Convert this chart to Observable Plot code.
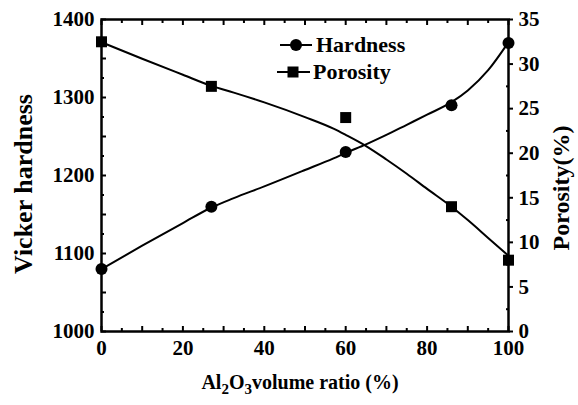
<!DOCTYPE html>
<html><head><meta charset="utf-8">
<script src="https://cdn.jsdelivr.net/npm/d3@7"></script>
<script src="https://cdn.jsdelivr.net/npm/@observablehq/plot@0.6"></script>
<style>body{margin:0;background:#fff} svg text{font-family:"Liberation Serif","Times New Roman",serif !important;}</style>
</head><body><div id="chart"></div>
<script>
// measured points
const ratio = [0, 27, 60, 86, 100];
const hardness = [1080, 1160, 1230, 1290, 1370];
const porosity = [32.5, 27.5, 24, 14, 8];
// fitted curves
const fitRatio = [0, 10, 20, 27, 32.5, 40, 50, 57, 60, 65, 70, 75, 80, 86, 90, 95, 100];
const hardFit = [1080, 1110, 1139, 1159, 1171, 1186, 1207, 1222, 1229, 1240, 1252, 1265, 1278, 1294, 1309, 1335, 1371];
const porFit = [32.45, 30.6, 28.8, 27.55, 26.8, 25.7, 24.05, 22.75, 22.05, 20.8, 19.3, 17.7, 16.0, 14.0, 12.5, 10.5, 8.5];
// axis ticks
const xLabels = [0, 20, 40, 60, 80, 100];
const xMajor = [0, 10, 20, 30, 40, 50, 60, 70, 80, 90, 100];
const xMinor = [5, 15, 25, 35, 45, 55, 65, 75, 85, 95];
const hLabels = [1000, 1100, 1200, 1300, 1400];
const hMajor = [1000, 1050, 1100, 1150, 1200, 1250, 1300, 1350, 1400];
const hMinor = [1025, 1075, 1125, 1175, 1225, 1275, 1325, 1375];
const pLabels = [0, 5, 10, 15, 20, 25, 30, 35];
const pMinor = [2.5, 7.5, 12.5, 17.5, 22.5, 27.5, 32.5];

const H0 = 1000, H1 = 1400, P1 = 35;
const toH = p => H0 + p * (H1 - H0) / P1;
const toP = h => (h - H0) * P1 / (H1 - H0);

const pts = ratio.map((r, i) => ({r, h: hardness[i], p: toH(porosity[i])}));
const fit = fitRatio.map((r, i) => ({r, h: hardFit[i], p: toH(porFit[i])}));
const none = () => "";
const fs = 21;
const serif = "'Liberation Serif', 'Times New Roman', serif";

const chart = Plot.plot({
  width: 578, height: 405,
  marginLeft: 101, marginRight: 70, marginTop: 19, marginBottom: 74,
  style: {fontFamily: serif, fontWeight: "bold", background: "#fff", color: "#000"},
  x: {domain: [0, 100], label: null},
  y: {domain: [H0, H1], label: null},
  marks: [
    Plot.axisX(xMajor, {anchor: "bottom", tickSize: -5, tickFormat: none, strokeWidth: 2}),
    Plot.axisX(xMinor, {anchor: "bottom", tickSize: -3, tickFormat: none, strokeWidth: 2}),
    Plot.axisX(xMajor, {anchor: "top", tickSize: -5, tickFormat: none, strokeWidth: 2}),
    Plot.axisX(xMinor, {anchor: "top", tickSize: -3, tickFormat: none, strokeWidth: 2}),
    Plot.axisX(xLabels, {anchor: "bottom", tickSize: 0, tickPadding: 9, fontSize: fs, label: null, tickFormat: d3.format("d")}),
    Plot.axisY(hMajor, {anchor: "left", tickSize: -5, tickFormat: none, strokeWidth: 2}),
    Plot.axisY(hMinor, {anchor: "left", tickSize: -3, tickFormat: none, strokeWidth: 2}),
    Plot.axisY(hLabels, {anchor: "left", tickSize: 0, tickPadding: 7, fontSize: fs, label: null, tickFormat: d3.format("d")}),
    Plot.axisY(pLabels.map(toH), {anchor: "right", tickSize: 4, tickFormat: none, strokeWidth: 2}),
    Plot.axisY(pMinor.map(toH), {anchor: "right", tickSize: -3, tickFormat: none, strokeWidth: 2}),
    Plot.axisY(pLabels.map(toH), {anchor: "right", tickSize: 0, tickPadding: 10, fontSize: fs, label: null,
      tickFormat: h => String(Math.round(toP(h)))}),
    Plot.line(fit, {x: "r", y: "h", curve: "monotone-x", stroke: "#000", strokeWidth: 2}),
    Plot.line(fit, {x: "r", y: "p", curve: "monotone-x", stroke: "#000", strokeWidth: 2}),
    Plot.dot(pts, {x: "r", y: "h", r: 6, fill: "#000", stroke: "none"}),
    Plot.dot(pts, {x: "r", y: "p", r: 6.2, symbol: "square", fill: "#000", stroke: "none"}),
    Plot.frame({stroke: "#000", strokeWidth: 2.5})
  ]
});
document.getElementById("chart").appendChild(chart);

const svg = d3.select(chart);
// axis titles
svg.append("text").attr("transform", "translate(32,184) rotate(-90)")
  .attr("text-anchor", "middle").attr("font-family", serif).attr("font-weight", "bold")
  .attr("font-size", 26).attr("fill", "#000").text("Vicker hardness");
svg.append("text").attr("transform", "translate(569,188) rotate(-90)")
  .attr("text-anchor", "middle").attr("font-family", serif).attr("font-weight", "bold")
  .attr("font-size", 24).attr("fill", "#000").text("Porosity(%)");
const xt = svg.append("text").attr("x", 300).attr("y", 389)
  .attr("text-anchor", "middle").attr("font-family", serif).attr("font-weight", "bold")
  .attr("font-size", 20).attr("fill", "#000");
xt.append("tspan").text("Al");
xt.append("tspan").attr("dy", 5).attr("font-size", 15).text("2");
xt.append("tspan").attr("dy", -5).text("O");
xt.append("tspan").attr("dy", 5).attr("font-size", 15).text("3");
xt.append("tspan").attr("dy", -5).text("volume ratio (%)");

// legend
const lg = svg.append("g").attr("font-family", serif).attr("font-weight", "bold").attr("font-size", 22)
  .attr("fill", "#000").attr("text-anchor", "start");
lg.append("line").attr("x1", 280).attr("x2", 312).attr("y1", 45).attr("y2", 45).attr("stroke", "#000").attr("stroke-width", 2);
lg.append("circle").attr("cx", 296).attr("cy", 45).attr("r", 6).attr("fill", "#000");
lg.append("text").attr("x", 316).attr("y", 52).text("Hardness");
lg.append("line").attr("x1", 277).attr("x2", 310).attr("y1", 72).attr("y2", 72).attr("stroke", "#000").attr("stroke-width", 2);
lg.append("rect").attr("x", 287.5).attr("y", 66.5).attr("width", 11).attr("height", 11).attr("fill", "#000");
lg.append("text").attr("x", 313).attr("y", 79).text("Porosity");
</script></body></html>
